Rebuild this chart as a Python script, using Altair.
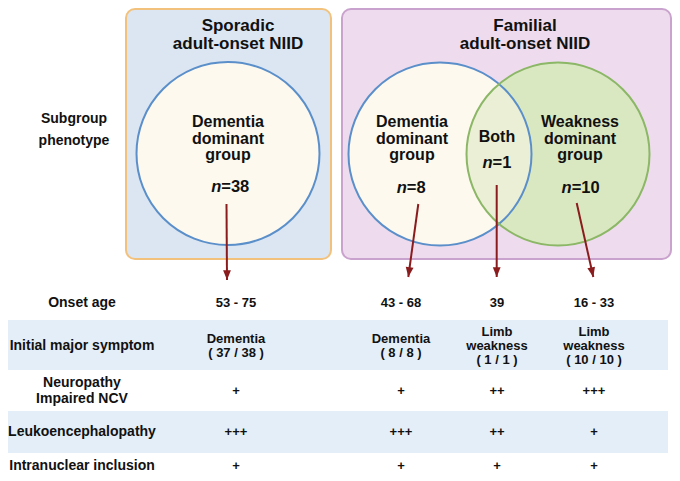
import altair as alt
import pandas as pd

# ---------------- content ----------------
group_titles = ["Sporadic\nadult-onset NIID", "Familial\nadult-onset NIID"]
subgroup_names = ["Dementia\ndominant\ngroup", "Dementia\ndominant\ngroup", "Both", "Weakness\ndominant\ngroup"]
subgroup_n = ["=38", "=8", "=1", "=10"]
side_label = ["Subgroup\nphenotype"]
row_labels = ["Onset age", "Initial major symptom", "Neuropathy\nImpaired NCV",
              "Leukoencephalopathy", "Intranuclear inclusion"]
col_sporadic_dementia = ["53 - 75", "Dementia\n( 37 / 38 )", "+", "+++", "+"]
col_familial_dementia = ["43 - 68", "Dementia\n( 8 / 8 )", "+", "+++", "+"]
col_familial_both = ["39", "Limb\nweakness\n( 1 / 1 )", "++", "++", "+"]
col_familial_weakness = ["16 - 33", "Limb\nweakness\n( 10 / 10 )", "+++", "+", "+"]

# ---------------- layout (page pixel positions) ----------------
box_x1 = [126, 342]
box_x2 = [331, 671]
box_y1 = [9, 9]
box_y2 = [259, 259]
title_x = [238, 525]
title_y = [35, 35]          # block centres

circle_x = [228, 440, 558]
circle_y = [153.5, 154, 154]
sub_x = [228, 412, 497, 580]
sub_y = [138.5, 138.5, 137, 138.5]  # block centres
n_split = [221.3, 406.8, 492.6, 571.7]
n_y = [187, 188, 163, 188]

arrow_x1 = [226.5, 418.3, 496.7, 576.7]
arrow_y1 = [204, 204, 185, 203]
arrow_x2 = [227, 408.3, 496.7, 593.3]
arrow_y2 = [280, 277, 277, 277]
arrow_ang = [0, 7.8, 0, 347.4]

band_y1 = [320, 411]
band_y2 = [370, 453]
row_y = [303, 345.7, 391, 431.7, 466]
label_x = 82
col_x = [236, 401, 497, 594]

FONT = "Liberation Sans"
X = alt.Scale(domain=[8, 672], nice=False, zero=False)
Y = alt.Scale(domain=[8, 473], reverse=True, nice=False, zero=False)


def xq(f):
    return alt.X(f, type="quantitative", scale=X, axis=None)


def yq(f):
    return alt.Y(f, type="quantitative", scale=Y, axis=None)


def first_line(centre, text, lh):
    # vega puts the first line at y and the others below it
    return centre - (text.count("\n")) * lh / 2


LH_TITLE, LH_SUB, LH_LABEL, LH_SIDE, LH_CELL = 18, 16.5, 16.6, 22, 14

boxes = pd.DataFrame({"x1": box_x1, "x2": box_x2, "y1": box_y1, "y2": box_y2,
                      "grp": ["Sporadic", "Familial"]})
titles = pd.DataFrame({"x": title_x,
                       "y": [first_line(c, t, LH_TITLE) for c, t in zip(title_y, group_titles)],
                       "t": group_titles})
circles = pd.DataFrame({"x": circle_x, "y": circle_y, "c": ["sp", "fd", "fw"]})
subs = pd.DataFrame({"x": sub_x,
                     "y": [first_line(c, t, LH_SUB) for c, t in zip(sub_y, subgroup_names)],
                     "t": subgroup_names})
ns = pd.DataFrame({"x": n_split, "y": n_y, "t": subgroup_n, "n": ["n"] * 4})
arrows = pd.DataFrame({"x1": arrow_x1, "y1": arrow_y1, "x2": arrow_x2, "y2": arrow_y2, "ang": arrow_ang})
bands = pd.DataFrame({"x1": [8, 8], "x2": [668, 668], "y1": band_y1, "y2": band_y2})
labels = pd.DataFrame({"x": [label_x] * 5,
                       "y": [first_line(c, t, LH_LABEL) for c, t in zip(row_y, row_labels)],
                       "t": row_labels})
side = pd.DataFrame({"x": [74], "y": [first_line(130, side_label[0], LH_SIDE)], "t": side_label})
cells = []
for cx, col in zip(col_x, [col_sporadic_dementia, col_familial_dementia,
                           col_familial_both, col_familial_weakness]):
    for ry, v in zip(row_y, col):
        cells.append({"x": cx, "y": first_line(ry, v, LH_CELL), "t": v})
cells = pd.DataFrame(cells)

box_sp = alt.Chart(boxes[boxes.grp == "Sporadic"]).mark_rect(
    cornerRadius=9, fill="#dbe6f2", stroke="#f2c27c", strokeWidth=2
).encode(x=xq("x1"), x2="x2", y=yq("y1"), y2="y2")
box_fa = alt.Chart(boxes[boxes.grp == "Familial"]).mark_rect(
    cornerRadius=9, fill="#eedcee", stroke="#c9a2cd", strokeWidth=2
).encode(x=xq("x1"), x2="x2", y=yq("y1"), y2="y2")

SIZE = 183 * 183
CREAM = "#fdf9ef"
cream = alt.Chart(circles[circles.c != "fw"]).mark_point(
    shape="circle", filled=True, fill=CREAM, opacity=1, size=SIZE, strokeWidth=0
).encode(x=xq("x"), y=yq("y"))
green = alt.Chart(circles[circles.c == "fw"]).mark_point(
    shape="circle", filled=True, fill="#dae8c2", opacity=1, size=SIZE, strokeWidth=0
).encode(x=xq("x"), y=yq("y"))
cream_veil = alt.Chart(circles[circles.c == "fd"]).mark_point(
    shape="circle", filled=True, fill=CREAM, opacity=0.45, size=SIZE, strokeWidth=0
).encode(x=xq("x"), y=yq("y"))
blue_ring = alt.Chart(circles[circles.c != "fw"]).mark_point(
    shape="circle", filled=False, stroke="#5b8fca", strokeWidth=2, opacity=1, size=SIZE
).encode(x=xq("x"), y=yq("y"))
green_ring = alt.Chart(circles[circles.c == "fw"]).mark_point(
    shape="circle", filled=False, stroke="#8bb766", strokeWidth=2, opacity=1, size=SIZE
).encode(x=xq("x"), y=yq("y"))

title_txt = alt.Chart(titles).mark_text(
    font=FONT, fontWeight="bold", fontSize=17, lineBreak="\n", lineHeight=LH_TITLE,
    baseline="middle", align="center", color="#111111"
).encode(x=xq("x"), y=yq("y"), text="t:N")
sub_txt = alt.Chart(subs).mark_text(
    font=FONT, fontWeight="bold", fontSize=16, lineBreak="\n", lineHeight=LH_SUB,
    baseline="middle", align="center", color="#111111"
).encode(x=xq("x"), y=yq("y"), text="t:N")
n_it = alt.Chart(ns).mark_text(
    font=FONT, fontWeight="bold", fontStyle="italic", fontSize=16.5,
    baseline="middle", align="right", color="#111111"
).encode(x=xq("x"), y=yq("y"), text="n:N")
n_val = alt.Chart(ns).mark_text(
    font=FONT, fontWeight="bold", fontSize=16.5,
    baseline="middle", align="left", color="#111111"
).encode(x=xq("x"), y=yq("y"), text="t:N")

arrow_line = alt.Chart(arrows).mark_rule(color="#8b1c1e", strokeWidth=2).encode(
    x=xq("x1"), y=yq("y1"), x2="x2", y2="y2")
arrow_head = alt.Chart(arrows).mark_point(
    shape="M0,0L-0.4,-1L0.4,-1Z", filled=True, fill="#8b1c1e", opacity=1, size=380, strokeWidth=0
).encode(x=xq("x2"), y=yq("y2"), angle=alt.Angle("ang:Q", scale=None))

band_rect = alt.Chart(bands).mark_rect(fill="#e3eef8").encode(
    x=xq("x1"), x2="x2", y=yq("y1"), y2="y2")
label_txt = alt.Chart(labels).mark_text(
    font=FONT, fontWeight="bold", fontSize=14, lineBreak="\n", lineHeight=LH_LABEL,
    baseline="middle", align="center", color="#111111"
).encode(x=xq("x"), y=yq("y"), text="t:N")
side_txt = alt.Chart(side).mark_text(
    font=FONT, fontWeight="bold", fontSize=14, lineBreak="\n", lineHeight=LH_SIDE,
    baseline="middle", align="center", color="#111111"
).encode(x=xq("x"), y=yq("y"), text="t:N")
cell_txt = alt.Chart(cells).mark_text(
    font=FONT, fontWeight="bold", fontSize=13, lineBreak="\n", lineHeight=LH_CELL,
    baseline="middle", align="center", color="#111111"
).encode(x=xq("x"), y=yq("y"), text="t:N")

chart = alt.layer(
    band_rect, box_sp, box_fa, cream, green, cream_veil, blue_ring, green_ring,
    title_txt, sub_txt, n_it, n_val, arrow_line, arrow_head,
    label_txt, side_txt, cell_txt
).properties(
    width=664, height=465, padding=0, autosize="none", background="white"
).configure_view(stroke=None)

chart.save("out.html", embed_options={"renderer": "svg", "actions": False})
